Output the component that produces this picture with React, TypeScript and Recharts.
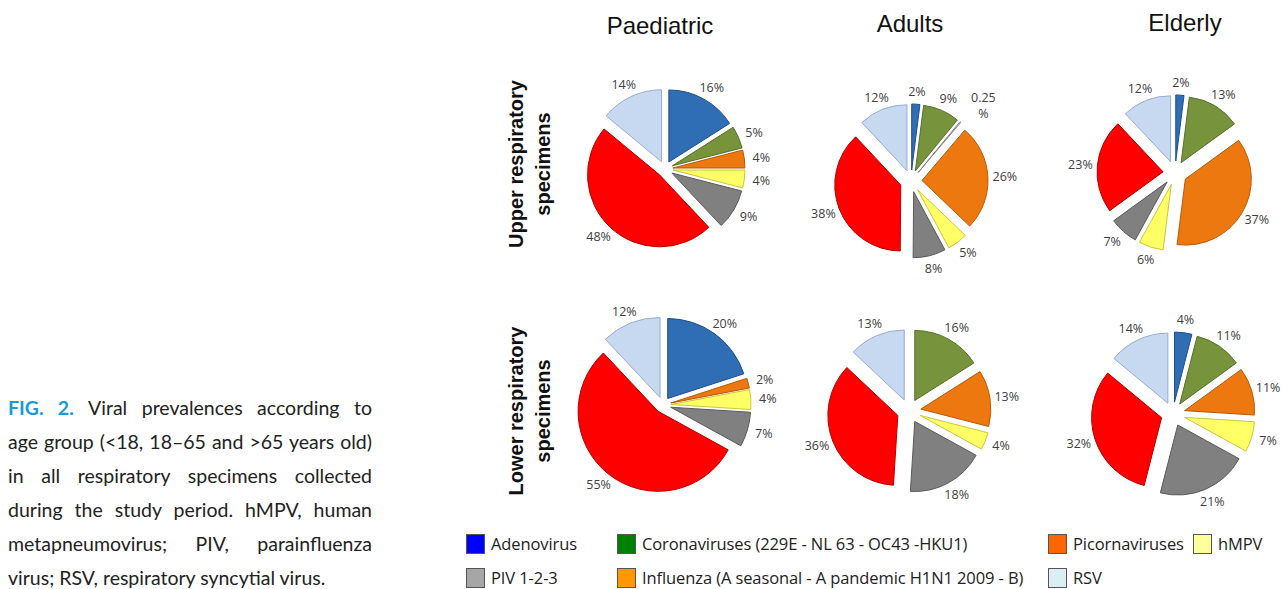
import React from "react";
import { PieChart, Pie, Cell, Sector } from "recharts";

// slice order, clockwise from 12 o'clock
const sliceKeys = ["Adenovirus", "Coronaviruses", "Other", "Influenza", "hMPV", "PIV", "Picornaviruses", "RSV"];
const sliceColors = ["#2f6db5", "#77933c", "#f4f4f4", "#ee7810", "#ffff66", "#808080", "#ff0000", "#c6d9f1"];
const sliceStrokes = ["#1f4f8a", "#56702a", "#7f7f7f", "#b85a08", "#c8c840", "#5a5a5a", "#b80000", "#95aed0"];

// values in %, same order as sliceKeys (0 = slice absent)
const paedUpper = [16, 5, 0, 4, 4, 9, 48, 14];
const adultUpper = [2, 9, 0.25, 26, 5, 8, 38, 12];
const elderUpper = [2, 13, 0, 37, 6, 7, 23, 12];
const paedLower = [20, 0, 0, 2, 4, 7, 55, 12];
const adultLower = [0, 16, 0, 13, 4, 18, 36, 13];
const elderLower = [4, 11, 0, 11, 7, 21, 32, 14];

const columnTitles = ["Paediatric", "Adults", "Elderly"];
const rowTitles = [["Upper respiratory", "specimens"], ["Lower respiratory", "specimens"]];

const legendRow1 = [
  { label: "Adenovirus", color: "#0000ff" },
  { label: "Coronaviruses (229E - NL 63 - OC43 -HKU1)", color: "#008000" },
  { label: "Picornaviruses", color: "#ff6600" },
  { label: "hMPV", color: "#ffff99" },
];
const legendRow2 = [
  { label: "PIV 1-2-3", color: "#a6a6a6" },
  { label: "Influenza (A seasonal - A pandemic H1N1 2009 - B)", color: "#ff9900" },
  { label: "RSV", color: "#daeef3" },
];

const captionLines = [
  "Viral prevalences according to",
  "age group (<18, 18–65 and >65 years old)",
  "in all respiratory specimens collected",
  "during the study period. hMPV, human",
  "metapneumovirus; PIV, parainfluenza",
  "virus; RSV, respiratory syncytial virus.",
];

const RAD = Math.PI / 180;
const W = 280;
const H = 250;

function toRows(values: number[]) {
  return values
    .map((v, i) => ({ name: sliceKeys[i], value: v, idx: i }))
    .filter((d) => d.value > 0);
}

const pies = [
  { data: paedUpper, x: 660, y: 164, r: 72, e: 8 },
  { data: adultUpper, x: 906, y: 176, r: 66, e: 11 },
  { data: elderUpper, x: 1170, y: 168, r: 66, e: 12 },
  { data: paedLower, x: 658, y: 400, r: 80, e: 8 },
  { data: adultLower, x: 904, y: 406, r: 70, e: 12 },
  { data: elderLower, x: 1168, y: 409, r: 70, e: 12 },
];

function makeShape(e: number) {
  return (p: any) => {
    const dx = e * Math.cos(-p.midAngle * RAD);
    const dy = e * Math.sin(-p.midAngle * RAD);
    return (
      <Sector
        cx={p.cx + dx}
        cy={p.cy + dy}
        innerRadius={0}
        outerRadius={p.outerRadius}
        startAngle={p.startAngle}
        endAngle={p.endAngle}
        fill={p.fill}
        stroke={p.stroke}
        strokeWidth={1}
      />
    );
  };
}

function makeLabel(e: number) {
  return (p: any) => {
    const c = Math.cos(-p.midAngle * RAD);
    const s = Math.sin(-p.midAngle * RAD);
    const R = p.outerRadius + e;
    const x = p.cx + (R + 17) * c;
    const y = p.cy + (R + 13) * s;
    const txt = String(p.value);
    const style = { fontFamily: "Open Sans", fontSize: 12.5, fill: "#404040" };
    if (p.value < 1) {
      return (
        <text x={x + 12} y={y - 10} textAnchor="middle" style={style}>
          <tspan x={x + 12} dy={0}>{txt}</tspan>
          <tspan x={x + 12} dy={16}>%</tspan>
        </text>
      );
    }
    return (
      <text x={x} y={y} textAnchor="middle" dominantBaseline="central" style={style}>
        {txt}%
      </text>
    );
  };
}

function ExplodedPie({ data, x, y, r, e }: any) {
  const rows = toRows(data);
  return (
    <div style={{ position: "absolute", left: x - W / 2, top: y - H / 2 }}>
      <PieChart width={W} height={H}>
        <Pie
          data={rows}
          dataKey="value"
          cx={W / 2}
          cy={H / 2}
          outerRadius={r}
          startAngle={90}
          endAngle={-270}
          isAnimationActive={false}
          labelLine={false}
          label={makeLabel(e)}
          shape={makeShape(e)}
        >
          {rows.map((d) => (
            <Cell key={d.name} fill={sliceColors[d.idx]} stroke={sliceStrokes[d.idx]} />
          ))}
        </Pie>
      </PieChart>
    </div>
  );
}

function LegendItem({ label, color, left, top }: any) {
  return (
    <div style={{ position: "absolute", left, top, display: "flex", alignItems: "center" }}>
      <div style={{ width: 19, height: 20, background: color, border: "1px solid #555", boxSizing: "border-box" }} />
      <span style={{ marginLeft: 6, fontFamily: "Open Sans", fontSize: 16.5, color: "#222", letterSpacing: -0.1 }}>
        {label}
      </span>
    </div>
  );
}

export default function App() {
  const titleX = [660, 910, 1185];
  const titleY = [12, 10, 9];
  const legendX1 = [466, 617, 1048, 1193];
  const legendX2 = [466, 617, 1048];
  return (
    <div style={{ position: "absolute", left: 0, top: 0, width: 1282, height: 589, background: "#fff", overflow: "hidden" }}>
      {/* caption */}
      <div style={{ position: "absolute", left: 8, top: 391, width: 364, fontFamily: "Lato", fontSize: 19.5, lineHeight: "34px", color: "#222" }}>
        {captionLines.map((line, i) => (
          <div key={i} style={{ textAlign: "justify", textAlignLast: i < captionLines.length - 1 ? "justify" : "left", whiteSpace: "nowrap" }}>
            {i === 0 && <span style={{ color: "#1a9ad6", fontWeight: 700 }}>FIG. 2. </span>}
            {line}
          </div>
        ))}
      </div>

      {/* column titles */}
      {columnTitles.map((t, i) => (
        <div
          key={t}
          style={{ position: "absolute", left: titleX[i] - 100, top: titleY[i], width: 200, textAlign: "center", fontFamily: "Liberation Sans", fontSize: 24, color: "#111" }}
        >
          {t}
        </div>
      ))}

      {/* row titles */}
      {rowTitles.map((lines, i) => (
        <div
          key={i}
          style={{
            position: "absolute",
            left: 533 - 110,
            top: (i === 0 ? 164 : 411) - 30,
            width: 220,
            height: 60,
            transform: "rotate(-90deg)",
            textAlign: "center",
            fontFamily: "Liberation Sans",
            fontWeight: 700,
            fontSize: 20,
            lineHeight: "27px",
            color: "#111",
          }}
        >
          {lines.map((l) => (
            <div key={l}>{l}</div>
          ))}
        </div>
      ))}

      {pies.map((p, i) => (
        <ExplodedPie key={i} {...p} />
      ))}

      {/* legend */}
      {legendRow1.map((d, i) => (
        <LegendItem key={d.label} {...d} left={legendX1[i]} top={532} />
      ))}
      {legendRow2.map((d, i) => (
        <LegendItem key={d.label} {...d} left={legendX2[i]} top={566} />
      ))}
    </div>
  );
}
